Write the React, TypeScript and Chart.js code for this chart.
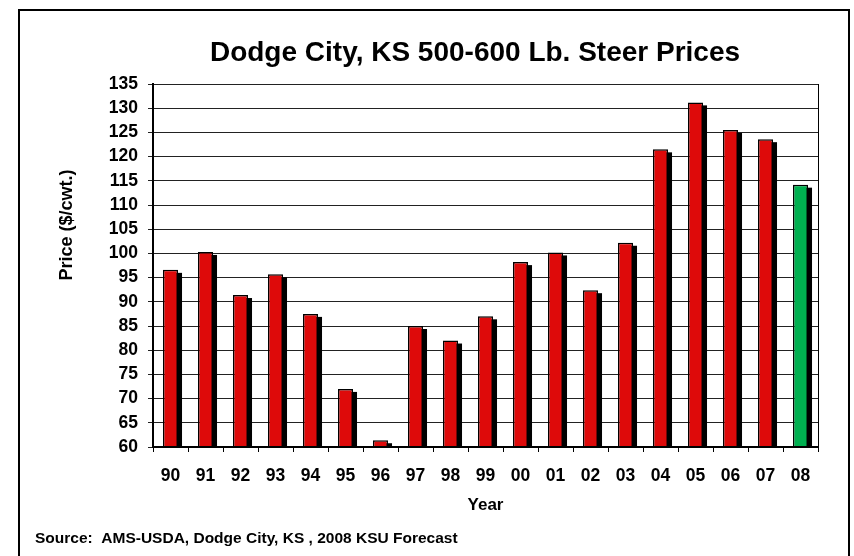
import React, { useEffect, useRef } from 'react';
import { Chart, registerables } from 'chart.js';

Chart.register(...registerables);

// ---- Data ----
const years = ['90', '91', '92', '93', '94', '95', '96', '97', '98', '99', '00', '01', '02', '03', '04', '05', '06', '07', '08'];
const prices = [96.6, 100.3, 91.4, 95.7, 87.5, 72.0, 61.4, 85.0, 82.0, 87.0, 98.2, 100.2, 92.4, 102.2, 121.5, 131.2, 125.5, 123.6, 114.2];
const forecastYears = ['08'];
const yMin = 60;
const yMax = 135;
const yStep = 5;

const titleText = 'Dodge City, KS 500-600 Lb. Steer Prices';
const yTitleText = 'Price ($/cwt.)';
const xTitleText = 'Year';
const sourceText = 'Source:  AMS-USDA, Dodge City, KS , 2008 KSU Forecast';

const RED = '#DE0A0A';
const GREEN = '#00B050';
const FONT = '"Liberation Sans", Arial, sans-serif';

const decorPlugin = {
  id: 'decor',
  beforeDatasetsDraw(chart: any) {
    const { ctx, chartArea } = chart;
    // right border of plot area
    ctx.save();
    ctx.strokeStyle = '#000';
    ctx.lineWidth = 1;
    ctx.beginPath();
    ctx.moveTo(Math.round(chartArea.right) + 0.5, chartArea.top);
    ctx.lineTo(Math.round(chartArea.right) + 0.5, chartArea.bottom);
    ctx.stroke();
    ctx.restore();

    // bar shadows
    const meta = chart.getDatasetMeta(0);
    ctx.save();
    ctx.beginPath();
    ctx.rect(chartArea.left, chartArea.top, chartArea.right - chartArea.left, chartArea.bottom - chartArea.top);
    ctx.clip();
    ctx.fillStyle = '#000';
    meta.data.forEach((bar: any) => {
      const { x, y, base, width } = bar.getProps(['x', 'y', 'base', 'width'], true);
      ctx.fillRect(x - width / 2 + 4, y + 3, width, base - y);
    });
    ctx.restore();
  },
  afterDatasetsDraw(chart: any) {
    const { ctx, chartArea } = chart;
    ctx.save();
    ctx.strokeStyle = '#000';
    ctx.lineWidth = 2;
    ctx.beginPath();
    ctx.moveTo(chartArea.left - 1, Math.round(chartArea.bottom));
    ctx.lineTo(chartArea.right, Math.round(chartArea.bottom));
    ctx.stroke();
    ctx.restore();
  },
  afterDraw(chart: any) {
    const { ctx, chartArea } = chart;
    ctx.save();
    // outer frame
    ctx.strokeStyle = '#000';
    ctx.lineWidth = 2;
    ctx.strokeRect(19, 10, 830, 580);

    ctx.fillStyle = '#000';
    // main title
    ctx.font = `bold 28px ${FONT}`;
    ctx.textAlign = 'center';
    ctx.textBaseline = 'alphabetic';
    ctx.fillText(titleText, 475, 61);

    // x title
    ctx.font = `bold 17px ${FONT}`;
    ctx.fillText(xTitleText, (chartArea.left + chartArea.right) / 2, 510);

    // source
    ctx.font = `bold 15.5px ${FONT}`;
    ctx.textAlign = 'left';
    ctx.fillText(sourceText, 35, 543);

    // y title
    ctx.translate(67, 225);
    ctx.rotate(-Math.PI / 2);
    ctx.font = `bold 18px ${FONT}`;
    ctx.textAlign = 'center';
    ctx.textBaseline = 'middle';
    ctx.fillText(yTitleText, 0, 0);
    ctx.restore();
  },
};

export default function App() {
  const canvasRef = useRef<HTMLCanvasElement>(null);

  useEffect(() => {
    if (!canvasRef.current) return;
    const chart = new Chart(canvasRef.current, {
      type: 'bar',
      data: {
        labels: years,
        datasets: [
          {
            data: prices,
            backgroundColor: years.map((y) => (forecastYears.includes(y) ? GREEN : RED)),
            borderColor: '#000',
            borderWidth: 1.5,
            borderSkipped: 'bottom',
            barPercentage: 0.43,
            categoryPercentage: 1,
          },
        ],
      },
      options: {
        responsive: false,
        animation: false,
        layout: { padding: { left: 0, top: 84, right: 36, bottom: 0 } },
        plugins: {
          legend: { display: false },
          tooltip: { enabled: false },
          title: { display: false },
        },
        scales: {
          x: {
            grid: {
              offset: true,
              drawOnChartArea: false,
              drawTicks: true,
              tickLength: 5,
              color: '#000',
              lineWidth: 1,
            },
            border: { color: '#000', width: 2 },
            ticks: {
              color: '#000',
              font: { family: FONT, size: 17.5, weight: 'bold' },
              padding: 14,
              maxRotation: 0,
              autoSkip: false,
            },
            afterFit: (scale: any) => {
              scale.height = 109;
            },
          },
          y: {
            min: yMin,
            max: yMax,
            ticks: {
              stepSize: yStep,
              color: '#000',
              font: { family: FONT, size: 17.5, weight: 'bold' },
              padding: 10,
            },
            grid: {
              color: '#222',
              lineWidth: 1,
              tickLength: 5,
              drawTicks: true,
            },
            border: { color: '#000', width: 2 },
            afterFit: (scale: any) => {
              scale.width = 153;
            },
          },
        },
      },
      plugins: [decorPlugin],
    });
    return () => chart.destroy();
  }, []);

  return (
    <div style={{ position: 'absolute', left: 0, top: 0, width: 854, height: 556, background: '#fff' }}>
      <canvas ref={canvasRef} width={854} height={556} />
    </div>
  );
}
